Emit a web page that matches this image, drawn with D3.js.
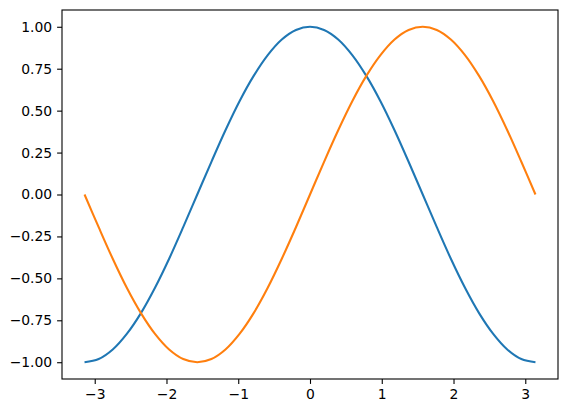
<!DOCTYPE html>
<html>
<head>
<meta charset="utf-8">
<script src="https://cdn.jsdelivr.net/npm/d3@7"></script>
<style>
  body { margin: 0; background: #fff; }
  .axis text { font-family: "DejaVu Sans", sans-serif; font-size: 13.9px; fill: #000; }
  .axis path, .axis line { stroke: #000; stroke-width: 1.1px; }
</style>
</head>
<body>
<svg id="chart" width="568" height="413"></svg>
<script>
// values
const xs = [-3.142, -2.945, -2.749, -2.553, -2.356, -2.160, -1.963, -1.767, -1.571, -1.374,
  -1.178, -0.982, -0.785, -0.589, -0.393, -0.196, 0, 0.196, 0.393, 0.589, 0.785, 0.982,
  1.178, 1.374, 1.571, 1.767, 1.963, 2.160, 2.356, 2.553, 2.749, 2.945, 3.142];
const blueY = [-1, -0.981, -0.924, -0.831, -0.707, -0.556, -0.383, -0.195, 0, 0.195,
  0.383, 0.556, 0.707, 0.831, 0.924, 0.981, 1, 0.981, 0.924, 0.831, 0.707, 0.556, 0.383,
  0.195, 0, -0.195, -0.383, -0.556, -0.707, -0.831, -0.924, -0.981, -1];
const orangeY = [0, -0.195, -0.383, -0.556, -0.707, -0.831, -0.924, -0.981, -1, -0.981,
  -0.924, -0.831, -0.707, -0.556, -0.383, -0.195, 0, 0.195, 0.383, 0.556, 0.707, 0.831,
  0.924, 0.981, 1, 0.981, 0.924, 0.831, 0.707, 0.556, 0.383, 0.195, 0];
const xTicks = [-3, -2, -1, 0, 1, 2, 3];
const yTicks = [-1, -0.75, -0.5, -0.25, 0, 0.25, 0.5, 0.75, 1];

const margins = { top: 10, left: 62, right: 10, bottom: 34 };
const width = 568, height = 413;
const svg = d3.select('#chart');

const x = d3.scaleLinear()
  .domain([-3.456, 3.456])
  .range([margins.left, width - margins.right]);
const y = d3.scaleLinear()
  .domain([-1.1, 1.1])
  .range([height - margins.bottom, margins.top]);

const minus = s => s.replace('-', '\u2212');

const xAxis = d3.axisBottom(x).tickValues(xTicks).tickSize(4.9).tickPadding(4.9)
  .tickFormat(d => minus(d3.format('d')(d)));
const yAxis = d3.axisLeft(y).tickValues(yTicks).tickSize(4.9).tickPadding(4.9)
  .tickFormat(d => minus(d3.format('.2f')(d)));

const line = ys => d3.line()
  .x((d, i) => x(xs[i]))
  .y(d => y(d))
  .curve(d3.curveCatmullRom.alpha(0.5))(ys);

svg.append('path')
  .attr('d', line(blueY))
  .attr('fill', 'none')
  .attr('stroke', '#1f77b4')
  .attr('stroke-width', 2.08);
svg.append('path')
  .attr('d', line(orangeY))
  .attr('fill', 'none')
  .attr('stroke', '#ff7f0e')
  .attr('stroke-width', 2.08);

svg.append('g')
  .attr('class', 'x axis')
  .attr('transform', 'translate(0,' + (height - margins.bottom) + ')')
  .call(xAxis)
  .select('.domain').remove();
svg.append('g')
  .attr('class', 'y axis')
  .attr('transform', 'translate(' + margins.left + ',0)')
  .call(yAxis)
  .select('.domain').remove();

// axes frame
svg.append('rect')
  .attr('x', margins.left)
  .attr('y', margins.top)
  .attr('width', width - margins.left - margins.right)
  .attr('height', height - margins.top - margins.bottom)
  .attr('fill', 'none')
  .attr('stroke', '#000')
  .attr('stroke-width', 1.1);
</script>
</body>
</html>
